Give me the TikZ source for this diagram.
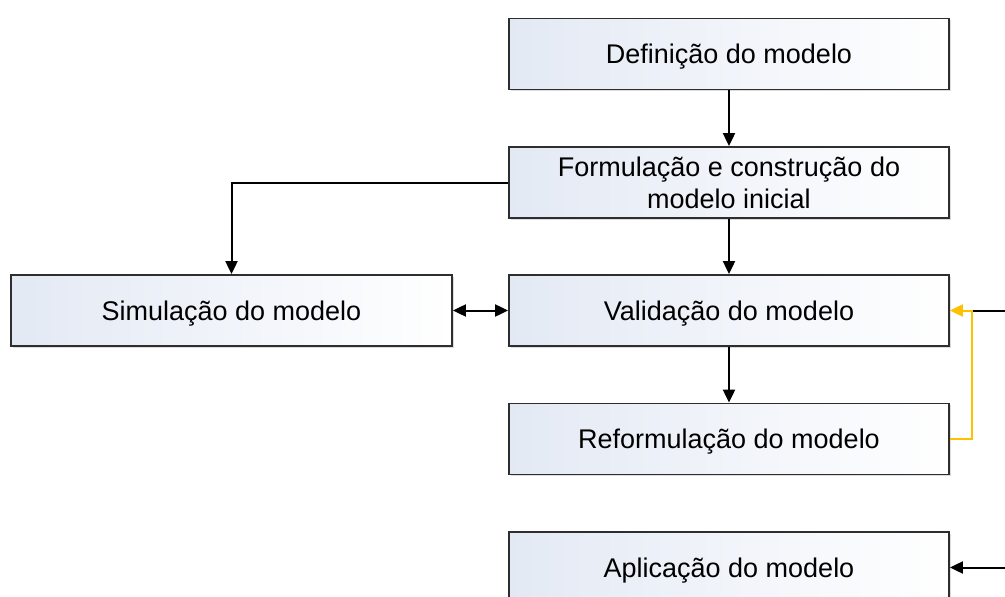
\documentclass[tikz,border=0pt]{standalone}
\usepackage{fontspec}
\setmainfont{Liberation Sans}
\usetikzlibrary{arrows.meta,shadows}
\definecolor{boxline}{HTML}{2E2E2E}
\definecolor{boxleft}{HTML}{E3E9F4}
\definecolor{ylw}{HTML}{FFC000}
\tikzset{
  procbox/.style={draw=boxline, line width=1.8pt, minimum width=440pt, minimum height=71pt,
    inner sep=0pt, align=center, text=black, text height=19.5pt, text depth=0pt,
    left color=boxleft, right color=white,
    font=\fontsize{27}{32}\selectfont,
    drop shadow={shadow xshift=1.5pt, shadow yshift=-1.5pt, fill=gray!45, opacity=0.6}},
  conn/.style={line width=2pt, draw=black, -{Triangle[length=13pt,width=12pt]}},
  conn2/.style={line width=2pt, draw=black, {Triangle[length=13pt,width=12pt]}-{Triangle[length=13pt,width=12pt]}},
  yconn/.style={line width=2pt, draw=ylw, -{Triangle[length=13pt,width=12pt]}},
  plain/.style={line width=2pt, draw=black}
}
\begin{document}
\begin{tikzpicture}[x=1pt,y=1pt]
\useasboundingbox (0,0) rectangle (1005,-597);
\clip (0,0) rectangle (1005,-597);
\fill[white] (0,0) rectangle (1005,-597);
\node[procbox] (def) at (729,-54) {Definição do modelo};
\node[procbox, text height=51.5pt] (form) at (729,-182.5) {Formulação e construção do\\modelo inicial};
\node[procbox, minimum width=441pt] (sim) at (231.5,-310.5) {Simulação do modelo};
\node[procbox] (val) at (729,-310.5) {Validação do modelo};
\node[procbox] (ref) at (729,-439) {Reformulação do modelo};
\node[procbox] (apl) at (729,-567.5) {Aplicação do modelo};
\coordinate (yj) at (971,-310.5);
\coordinate (ext1) at (1012,-310.5);
\coordinate (ext2) at (1012,-567.5);
\draw[conn] (def) -- (form);
\draw[conn] (form.west) -| (sim.north);
\draw[conn] (form) -- (val);
\draw[conn2] (sim) -- (val);
\draw[conn] (val) -- (ref);
\draw[plain] (yj) -- (ext1);
\draw[yconn] (ref.east) -- ++(22,0) |- (val.east);
\draw[conn] (ext2) -- (apl.east);
\end{tikzpicture}
\end{document}
